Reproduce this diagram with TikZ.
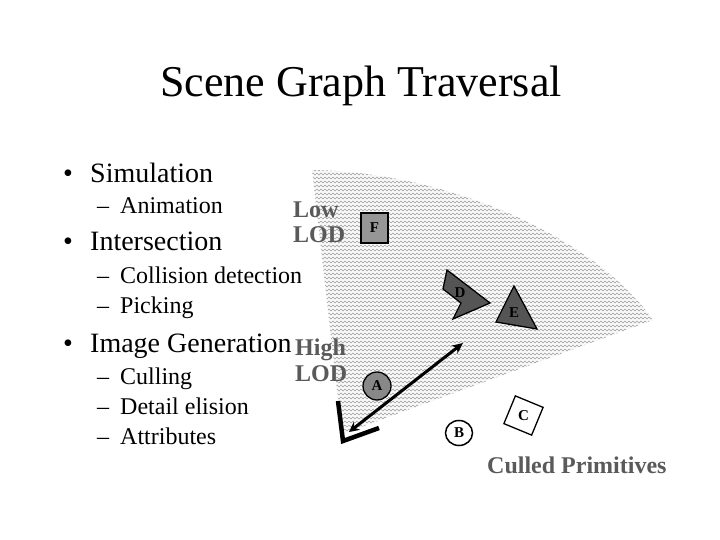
\documentclass[tikz,border=0pt]{standalone}
\usepackage{fontspec}
\setmainfont{Liberation Serif}
\usetikzlibrary{arrows.meta,decorations.pathmorphing,shapes.geometric}
\definecolor{lodgray}{RGB}{90,90,90}
\definecolor{boxgray}{RGB}{150,150,150}
\definecolor{circgray}{RGB}{136,136,136}
\definecolor{darkshape}{RGB}{85,85,85}
\tikzset{
  lvlone/.style={anchor=base west, inner sep=0, font=\fontsize{28}{32}\selectfont},
  lvltwo/.style={anchor=base west, inner sep=0, font=\fontsize{24}{28}\selectfont},
  lodtext/.style={anchor=base west, inner sep=0, text=lodgray, font=\fontsize{24}{24}\selectfont\bfseries},
  letter/.style={inner sep=0, font=\fontsize{15}{15}\selectfont\bfseries},
  wave/.style={gray!75, line width=0.45, decorate, decoration={zigzag, segment length=4, amplitude=1}},
  primshape/.style={draw=black, line width=1.3},
}
\begin{document}
\begin{tikzpicture}[x=1pt,y=-1pt]
\useasboundingbox (0,0) rectangle (720,540);
\fill[white] (0,0) rectangle (720,540);

% title
\node[anchor=base, inner sep=0, font=\fontsize{44}{50}\selectfont] (title) at (361,97) {Scene Graph Traversal};

% bullets
\node[lvlone] (b1) at (63,183) {•};
\node[lvlone] (t1) at (90,183) {Simulation};
\node[lvltwo] (d1) at (97,214) {–};
\node[lvltwo] (s1) at (120,214) {Animation};
\node[lvlone] (b2) at (63,250) {•};
\node[lvlone] (t2) at (90,250) {Intersection};
\node[lvltwo] (d2) at (97,283) {–};
\node[lvltwo] (s2) at (120,283) {Collision detection};
\node[lvltwo] (d3) at (97,313) {–};
\node[lvltwo] (s3) at (120,313) {Picking};
\node[lvlone] (b3) at (63,352) {•};
\node[lvlone] (t3) at (90,352) {Image Generation};
\node[lvltwo] (d4) at (97,384) {–};
\node[lvltwo] (s4) at (120,384) {Culling};
\node[lvltwo] (d5) at (97,414) {–};
\node[lvltwo] (s5) at (120,414) {Detail elision};
\node[lvltwo] (d6) at (97,444) {–};
\node[lvltwo] (s6) at (120,444) {Attributes};

% view frustum region
\begin{scope}
  \clip (342,434) -- (312,170) .. controls (450,172) and (595,238) .. (653,320) -- cycle;
  \fill[gray!5] (300,160) rectangle (670,440);
  \foreach \yy in {162,166,...,438}
    \draw[wave] (300,\yy) -- (670,\yy);
\end{scope}

% labels
\node[lodtext] (low1) at (293,218) {Low};
\node[lodtext] (low2) at (293,242) {LOD};
\node[lodtext] (high1) at (295,355) {High};
\node[lodtext] (high2) at (295,381) {LOD};
\node[lodtext] (culled) at (487,473) {Culled Primitives};

% primitives
\node[primshape, fill=boxgray, minimum width=27, minimum height=30, line width=1.8, letter] (F) at (374.5,228) {F};
\node[primshape, circle, fill=circgray, minimum size=28, letter] (A) at (377,386) {A};
\node[primshape, ellipse, fill=white, minimum width=27, minimum height=25, line width=1.5, letter] (B) at (459,433) {B};
\node[primshape, fill=white, rotate=-22.5, minimum size=30] (Cbox) at (523.5,415.5) {};
\node[letter] (C) at (Cbox.center) {C};

\draw[primshape, fill=darkshape] (447,270) -- (490,303) -- (453,319) -- (461,303) -- (443,289) -- cycle;
\node[letter] (D) at (460,293) {D};
\draw[primshape, fill=darkshape] (514,286) -- (537,329) -- (496,322) -- cycle;
\node[letter] (E) at (514,313) {E};

% eye and view direction
\draw[line width=4.5, line join=miter] (338,401) -- (343,441) -- (379,428);
\coordinate (eye) at (349,432);
\coordinate (tip) at (463,343);
\draw[line width=3, {Stealth[length=10,width=10]}-{Stealth[length=11,width=10]}] (eye) -- (tip);
\end{tikzpicture}
\end{document}
